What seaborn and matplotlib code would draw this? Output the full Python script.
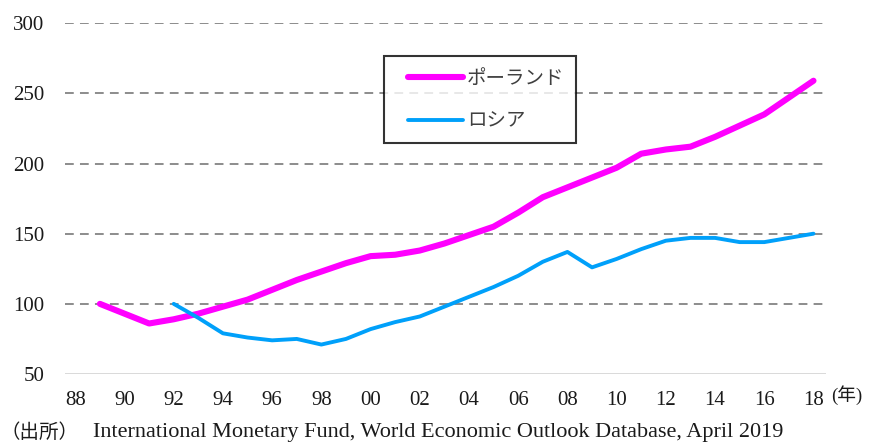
import matplotlib
matplotlib.use("Agg")
import matplotlib.pyplot as plt
from matplotlib.legend_handler import HandlerLine2D
import seaborn as sns
import pandas as pd

# Real GDP index (1989 = 100 for Poland, 1992 = 100 for Russia)
years_poland = list(range(1989, 2019))
poland = [100, 93, 86, 89, 93, 98, 103, 110, 117, 123, 129, 134, 135, 138, 143,
          149, 155, 165, 176, 183, 190, 197, 207, 210, 212, 219, 227, 235, 247, 259]
years_russia = list(range(1992, 2019))
russia = [100, 90, 79, 76, 74, 75, 71, 75, 82, 87, 91, 98, 105, 112, 120,
          130, 137, 126, 132, 139, 145, 147, 147, 144, 144, 147, 150]
series_names = ["ポーランド", "ロシア"]
tick_years = list(range(1988, 2019, 2))
tick_labels = [f"{y % 100:02d}" for y in tick_years]
y_ticks = [50, 100, 150, 200, 250, 300]
year_unit = "(年)"
source_head = "（出所）"
source_body = "International Monetary Fund, World Economic Outlook Database, April 2019"

sns.set_theme(style="white")
plt.rcParams["font.family"] = ["Liberation Serif", "Noto Sans CJK JP", "DejaVu Sans"]

df_pl = pd.DataFrame({"year": years_poland, "value": poland})
df_ru = pd.DataFrame({"year": years_russia, "value": russia})

fig = plt.figure(figsize=(8.72, 4.46), dpi=100)
ax = fig.add_axes([0.0745, 0.1614, 0.8725, 0.7866])

# horizontal reference lines
for yv in y_ticks[1:]:
    ax.axhline(yv, color="#8c8c8c", lw=1.4, ls=(0, (4.5, 3.2)), zorder=0)
ax.axhline(50, color="#d9d9d9", lw=1.4, zorder=0)

sns.lineplot(data=df_pl, x="year", y="value", ax=ax, color="#FF00FF",
             lw=4.4, label=series_names[0], solid_capstyle="round")
sns.lineplot(data=df_ru, x="year", y="value", ax=ax, color="#00A0FA",
             lw=2.8, label=series_names[1], solid_capstyle="round")

ax.set_xlim(1987.58, 2018.5)
ax.set_ylim(50, 300)
ax.set_xticks(tick_years)
ax.set_xticklabels(tick_labels)
ax.set_yticks(y_ticks)
ax.set_xlabel("")
ax.set_ylabel("")
for s in ax.spines.values():
    s.set_visible(False)
ax.tick_params(axis="both", length=0, labelsize=15, colors="#1a1a1a")
ax.tick_params(axis="x", pad=12)
ax.tick_params(axis="y", pad=15)

# legend: handles inset from the left edge of the frame
handler = HandlerLine2D(xpad=0.64)
leg = ax.legend(loc="upper left", bbox_to_anchor=(0.419, 0.906),
                borderaxespad=0, frameon=True, fancybox=False,
                handlelength=3.47, handletextpad=0.2, labelspacing=1.12,
                borderpad=0.6,
                handler_map={plt.Line2D: handler},
                prop={"family": ["Noto Sans CJK JP"], "size": 14})
leg.get_frame().set_edgecolor("black")
leg.get_frame().set_linewidth(1.5)
for t in leg.get_texts():
    t.set_color("#404040")

fig.text(831 / 872, 1 - 395 / 446, year_unit, fontsize=13.5, va="center",
         ha="left", color="#1a1a1a")
fig.text(0, 1 - 433 / 446, source_head, fontsize=14, va="center",
         ha="left", color="#1a1a1a")
fig.text(93 / 872, 1 - 433 / 446, source_body, fontsize=16, va="center",
         ha="left", color="#1a1a1a")

fig.savefig("out.png", dpi=100)
